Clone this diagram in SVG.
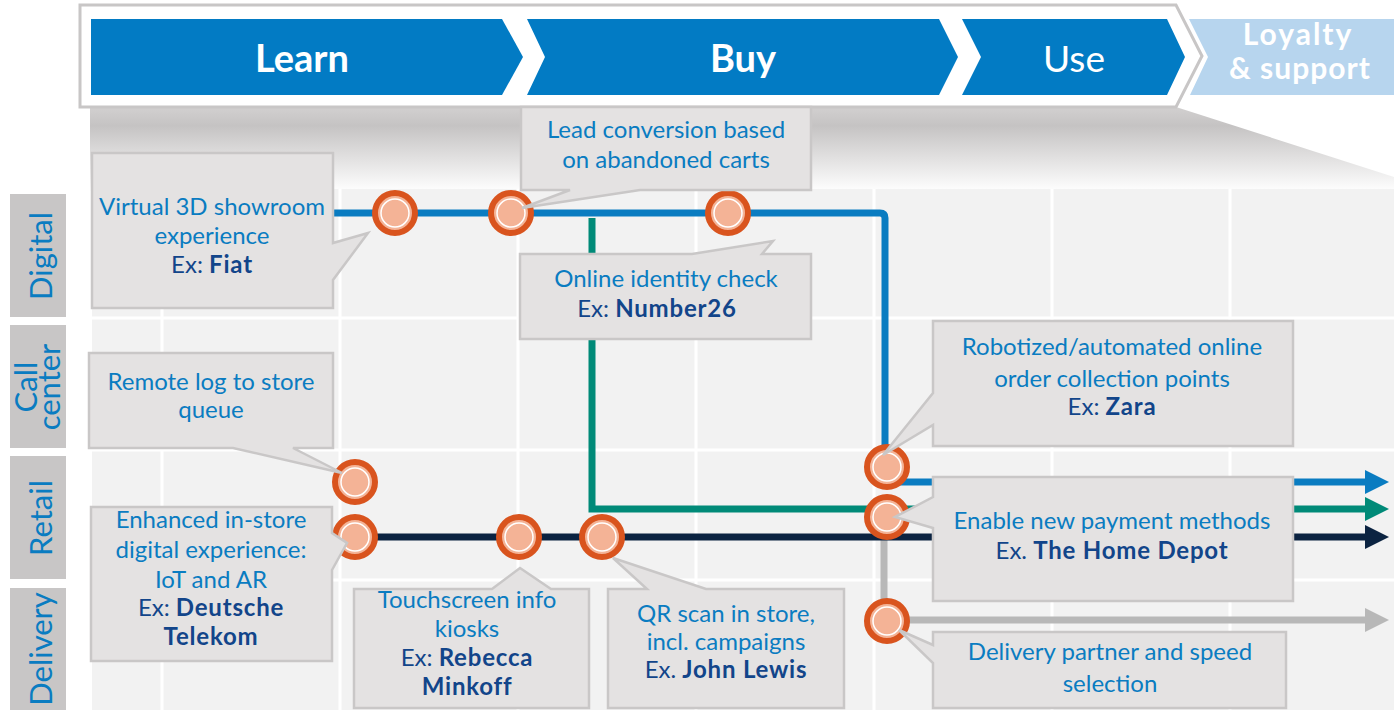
<svg xmlns="http://www.w3.org/2000/svg" width="1394" height="710" viewBox="0 0 1394 710">
<defs>
<style>
.banner{fill:#027bc4}
.bt{font-family:Lato,"Open Sans",sans-serif;fill:#fff;text-anchor:middle}
.row{fill:#c8c6c6}
.rt{font-family:Lato,"Open Sans",sans-serif;font-size:31px;fill:#0a7cc1;text-anchor:middle}
.grid{stroke:#fff;stroke-width:3}
.line{fill:none;stroke-width:7}
.co{fill:#e4e2e2;stroke:#c9c7c7;stroke-width:2.5;stroke-linejoin:miter}
.ct{font-family:Lato,"Open Sans",sans-serif;font-size:24px;fill:#0a7cc1;text-anchor:middle}
.ex{fill:#12458a}
.b{font-weight:bold}
.ct .b,.ct.b{font-size:24px;letter-spacing:0.8px}
</style>
<linearGradient id="shade" x1="0" y1="107" x2="0" y2="192" gradientUnits="userSpaceOnUse">
<stop offset="0" stop-color="#d2d0d0"/>
<stop offset="0.22" stop-color="#c5c3c3"/>
<stop offset="1" stop-color="#ffffff"/>
</linearGradient>
<marker id="aBlue" markerUnits="userSpaceOnUse" markerWidth="24" markerHeight="24" viewBox="0 0 24 24" refX="1" refY="12" orient="auto"><path d="M0,0 L24,12 L0,24 Z" fill="#0a7cc1"/></marker>
<marker id="aGreen" markerUnits="userSpaceOnUse" markerWidth="24" markerHeight="24" viewBox="0 0 24 24" refX="1" refY="12" orient="auto"><path d="M0,0 L24,12 L0,24 Z" fill="#008a78"/></marker>
<marker id="aNavy" markerUnits="userSpaceOnUse" markerWidth="24" markerHeight="24" viewBox="0 0 24 24" refX="1" refY="12" orient="auto"><path d="M0,0 L24,12 L0,24 Z" fill="#0b2341"/></marker>
<marker id="aGrey" markerUnits="userSpaceOnUse" markerWidth="24" markerHeight="24" viewBox="0 0 24 24" refX="1" refY="12" orient="auto"><path d="M0,0 L24,12 L0,24 Z" fill="#b8b8b8"/></marker>
<g id="stop">
<circle r="20" fill="#f4b396" stroke="#d9541e" stroke-width="6"/>
<circle r="14" fill="none" stroke="#fff" stroke-width="1.5"/>
</g>
</defs>

<!-- background -->
<rect width="1394" height="710" fill="#fff"/>
<polygon points="90,107 1176,107 1394,177 1394,192 90,192" fill="url(#shade)"/>
<rect x="92" y="189" width="1302" height="521" fill="#f2f2f2"/>
<g id="grid" class="grid">
<line x1="162" y1="189" x2="162" y2="710"/>
<line x1="340" y1="189" x2="340" y2="710"/>
<line x1="518" y1="189" x2="518" y2="710"/>
<line x1="696" y1="189" x2="696" y2="710"/>
<line x1="874" y1="189" x2="874" y2="710"/>
<line x1="1052" y1="189" x2="1052" y2="710"/>
<line x1="1230" y1="189" x2="1230" y2="710"/>
<line x1="92" y1="318" x2="1394" y2="318"/>
<line x1="92" y1="450" x2="1394" y2="450"/>
<line x1="92" y1="580" x2="1394" y2="580"/>
</g>

<!-- banner -->
<g id="banner">
<polygon points="80,5 1176,5 1202,56 1176,107 80,107" fill="#fff" stroke="#c8c6c6" stroke-width="3"/>
<g id="phase-learn"><polygon class="banner" points="91,19 502,19 523,57 502,95 91,95"/><text class="bt b" x="302" y="72" font-size="38">Learn</text></g>
<g id="phase-buy"><polygon class="banner" points="527,19 939,19 958,57 939,95 527,95 545,57"/><text class="bt b" x="743" y="72" font-size="38">Buy</text></g>
<g id="phase-use"><polygon class="banner" points="962,19 1167,19 1185,57 1167,95 962,95 981,57"/><text class="bt" x="1074" y="72" font-size="37">Use</text></g>
<g id="phase-loyalty"><polygon points="1189,19 1394,19 1394,95 1190,95 1208,57" fill="#b7d5ee"/><text class="bt b" x="1298" y="45" font-size="30" letter-spacing="2">Loyalty</text><text class="bt b" x="1300" y="79" font-size="30" letter-spacing="1">&amp; support</text></g>
</g>

<!-- row labels -->
<g id="row-digital"><rect class="row" x="10" y="194" width="56" height="123"/><text class="rt" transform="translate(52,256) rotate(-90)">Digital</text></g>
<g id="row-callcenter"><rect class="row" x="10" y="325" width="56" height="123"/><text class="rt" transform="translate(37,387) rotate(-90)">Call</text><text class="rt" transform="translate(60,387) rotate(-90)">center</text></g>
<g id="row-retail"><rect class="row" x="10" y="456" width="56" height="123"/><text class="rt" transform="translate(52,518) rotate(-90)">Retail</text></g>
<g id="row-delivery"><rect class="row" x="10" y="588" width="56" height="122"/><text class="rt" transform="translate(52,649) rotate(-90)">Delivery</text></g>

<!-- connectors -->
<g id="connectors">
<path class="line" stroke="#b8b8b8" stroke-width="8" d="M884,495 V620 H1366" marker-end="url(#aGrey)"/>
<path class="line" stroke="#008a78" d="M592,218 V509 H1366" marker-end="url(#aGreen)"/>
<path class="line" stroke="#0a7cc1" d="M330,213 H880 Q885,213 885,218 V482 H1366" marker-end="url(#aBlue)"/>
<path class="line" stroke="#0b2341" d="M355,537 H1366" marker-end="url(#aNavy)"/>
</g>

<!-- stops -->
<g id="stops">
<use href="#stop" x="395" y="213"/>
<use href="#stop" x="511" y="213"/>
<use href="#stop" x="728" y="213"/>
<use href="#stop" x="355" y="482"/>
<use href="#stop" x="355" y="537"/>
<use href="#stop" x="519" y="537"/>
<use href="#stop" x="602" y="537"/>
<use href="#stop" x="887" y="467"/>
<use href="#stop" x="887" y="517"/>
<use href="#stop" x="887" y="621"/>
</g>

<!-- callouts -->
<g id="c-fiat"><path class="co" d="M92,153 H333 V243 L368,233 L333,280 V308 H92 Z"/>
<text class="ct" x="212" y="215">Virtual 3D showroom</text><text class="ct" x="212" y="244">experience</text><text class="ct ex" x="212" y="273">Ex: <tspan class="b">Fiat</tspan></text></g>

<g id="c-lead"><path class="co" d="M521,107 H811 V190 H640 L522,208 L570,190 H521 Z"/>
<text class="ct" x="666" y="138">Lead conversion based</text><text class="ct" x="666" y="168">on abandoned carts</text></g>

<g id="c-number26"><path class="co" d="M520,254 H692 L773,241 L762,254 H811 V339 H520 Z"/>
<text class="ct" x="666" y="287">Online identity check</text><text class="ct ex" x="657" y="317">Ex: <tspan class="b">Number26</tspan></text></g>

<g id="c-remote"><path class="co" d="M89,353 H333 V448 H293 L342,473 L233,448 H89 Z"/>
<text class="ct" x="211" y="390">Remote log to store</text><text class="ct" x="211" y="418">queue</text></g>

<g id="c-telekom"><path class="co" d="M91,507 H332 V533 L347,543 L332,570 V661 H91 Z"/>
<text class="ct" x="211" y="528">Enhanced in-store</text><text class="ct" x="211" y="558">digital experience:</text><text class="ct" x="211" y="588">IoT and AR</text><text class="ct ex" x="211" y="616">Ex: <tspan class="b">Deutsche</tspan></text><text class="ct ex b" x="211" y="645">Telekom</text></g>

<g id="c-kiosk"><path class="co" d="M354,589 H492 L520,568 L551,589 H589 V708 H354 Z"/>
<text class="ct" x="467" y="608">Touchscreen info</text><text class="ct" x="467" y="637">kiosks</text><text class="ct ex" x="467" y="666">Ex: <tspan class="b">Rebecca</tspan></text><text class="ct ex b" x="467" y="695">Minkoff</text></g>

<g id="c-qr"><path class="co" d="M608,589 H647 L613,558 L706,589 H844 V708 H608 Z"/>
<text class="ct" x="726" y="622">QR scan in store,</text><text class="ct" x="726" y="650">incl. campaigns</text><text class="ct ex" x="726" y="678">Ex. <tspan class="b">John Lewis</tspan></text></g>

<g id="c-zara"><path class="co" d="M933,321 H1293 V446 H933 V425 L883,455 L933,393 Z"/>
<text class="ct" x="1112" y="355">Robotized/automated online</text><text class="ct" x="1112" y="387">order collection points</text><text class="ct ex" x="1112" y="415">Ex: <tspan class="b">Zara</tspan></text></g>

<g id="c-payment"><path class="co" d="M933,477 H1293 V601 H933 V528 L895,517 L933,497 Z"/>
<text class="ct" x="1112" y="529">Enable new payment methods</text><text class="ct ex" x="1112" y="559">Ex. <tspan class="b">The Home Depot</tspan></text></g>

<g id="c-delivery"><path class="co" d="M933,632 H1286 V708 H933 V663 L899,630 L933,645 Z"/>
<text class="ct" x="1110" y="660">Delivery partner and speed</text><text class="ct" x="1110" y="692">selection</text></g>
</svg>
